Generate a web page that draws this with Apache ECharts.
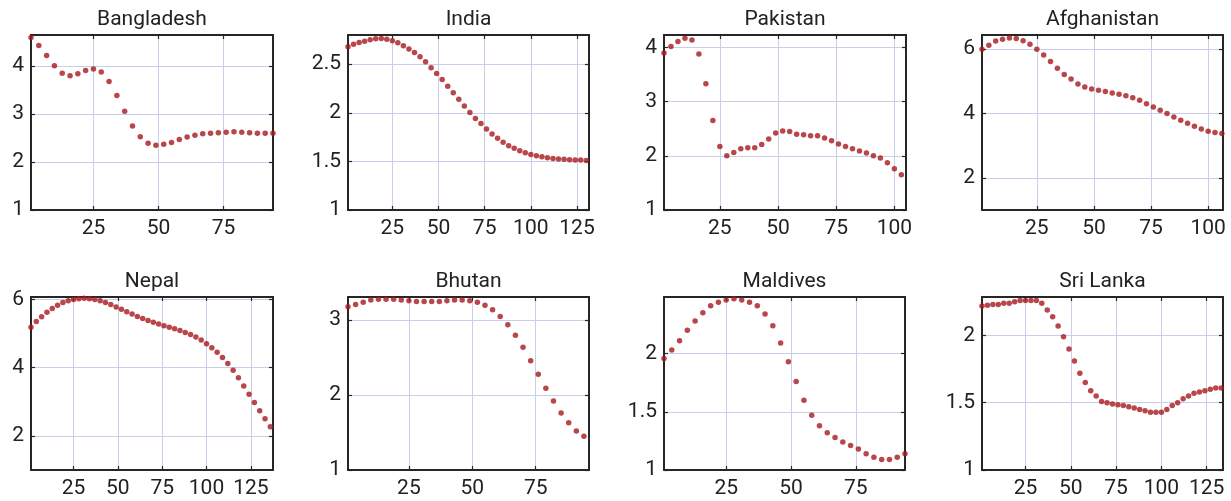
<!DOCTYPE html>
<html>
<head>
<meta charset="utf-8">
<script src="https://cdn.jsdelivr.net/npm/echarts@6/dist/echarts.min.js"></script>
<style>
html,body{margin:0;padding:0;background:#fff;}
#chart{width:1231px;height:501px;}
</style>
</head>
<body>
<div id="chart"></div>
<script>
// x positions (shared by all panels, each panel uses as many as it has values)
const xPositions = [1,4,7,10,13,16,19,22,25,28,31,34,37,40,43,46,49,52,55,58,61,64,67,70,73,76,79,82,85,88,91,94,97,100,103,106,109,112,115,118,121,124,127,130,133,136];

const countries = ['Bangladesh','India','Pakistan','Afghanistan','Nepal','Bhutan','Maldives','Sri Lanka'];

const bangladesh = [4.60,4.43,4.22,4.01,3.85,3.80,3.84,3.91,3.94,3.88,3.68,3.39,3.06,2.75,2.53,2.39,2.35,2.37,2.41,2.47,2.52,2.56,2.59,2.60,2.61,2.62,2.63,2.62,2.61,2.60,2.60,2.60];
const india = [2.678,2.706,2.723,2.737,2.75,2.761,2.765,2.757,2.74,2.72,2.689,2.655,2.62,2.576,2.524,2.463,2.405,2.343,2.274,2.206,2.138,2.069,2.004,1.942,1.891,1.832,1.781,1.737,1.696,1.661,1.634,1.61,1.589,1.572,1.558,1.548,1.538,1.531,1.524,1.521,1.517,1.514,1.514,1.51];
const pakistan = [3.90,4.02,4.11,4.17,4.14,3.88,3.33,2.65,2.17,2.00,2.06,2.13,2.15,2.15,2.21,2.31,2.42,2.46,2.45,2.40,2.39,2.37,2.37,2.33,2.28,2.22,2.17,2.13,2.09,2.05,2.00,1.96,1.87,1.76,1.65];
const afghanistan = [6.00,6.12,6.25,6.31,6.35,6.33,6.26,6.15,6.00,5.82,5.62,5.41,5.21,5.07,4.92,4.82,4.76,4.72,4.68,4.64,4.60,4.55,4.49,4.41,4.30,4.20,4.10,4.00,3.89,3.79,3.70,3.60,3.52,3.45,3.41,3.38];
const nepal = [5.18,5.35,5.49,5.62,5.73,5.83,5.91,5.96,6.00,6.02,6.03,6.02,6.00,5.96,5.91,5.85,5.78,5.71,5.64,5.57,5.50,5.44,5.38,5.33,5.28,5.23,5.18,5.14,5.09,5.03,4.97,4.90,4.81,4.70,4.58,4.45,4.30,4.12,3.92,3.70,3.46,3.22,2.98,2.74,2.50,2.27];
const bhutan = [3.18,3.21,3.24,3.27,3.28,3.28,3.28,3.27,3.26,3.25,3.25,3.25,3.25,3.26,3.27,3.27,3.26,3.24,3.20,3.14,3.05,2.94,2.80,2.64,2.46,2.28,2.09,1.92,1.76,1.63,1.52,1.45];
const maldives = [1.957,2.03,2.11,2.20,2.28,2.35,2.41,2.44,2.46,2.47,2.46,2.44,2.41,2.34,2.24,2.09,1.93,1.76,1.60,1.47,1.38,1.32,1.28,1.24,1.21,1.18,1.14,1.11,1.09,1.09,1.11,1.14];
const sriLanka = [2.22,2.224,2.23,2.23,2.24,2.24,2.25,2.26,2.26,2.26,2.26,2.24,2.19,2.14,2.07,1.99,1.90,1.81,1.72,1.65,1.59,1.55,1.51,1.50,1.49,1.485,1.48,1.47,1.46,1.45,1.44,1.43,1.43,1.43,1.45,1.48,1.50,1.53,1.55,1.57,1.58,1.59,1.60,1.61,1.61];

const seriesValues = [bangladesh, india, pakistan, afghanistan, nepal, bhutan, maldives, sriLanka];

// tick labels
const xTicksA = [25,50,75];
const xTicksB = [25,50,75,100];
const xTicksC = [25,50,75,100,125];
const yTicksInt = [1,2,3,4];
const yTicksHalf = [1,1.5,2,2.5];
const yTicksEven = [2,4,6];
const yTicksBhutan = [1,2,3];

const xTickSets = [xTicksA, xTicksC, xTicksB, xTicksB, xTicksC, xTicksA, xTicksA, xTicksC];
const yTickSets = [yTicksInt, yTicksHalf, yTicksInt, yTicksEven, yTicksEven, yTicksBhutan, yTicksHalf, yTicksHalf];

// axis ranges
const xMax = [94, 131.5, 105, 106.5, 137.5, 96, 94, 134];
const yMax = [4.65, 2.8, 4.23, 6.44, 6.07, 3.31, 2.486, 2.286];

// layout
const gridBoxes = [
  [31,35,242,175],[348,35,241,175],[664,35,242,175],[982,35,241,175],
  [31,297,242,173],[348,297,241,173],[664,297,241,173],[982,297,241,173]
];

const FONT = 'Roboto';
const INK = '#262626';
const GRIDC = '#c9cee9';
const DOT = '#a8181d';

const grid = [], xAxis = [], yAxis = [], series = [];
countries.forEach((name, i) => {
  const b = gridBoxes[i];
  grid.push({left:b[0], top:b[1], width:b[2], height:b[3], containLabel:false});
  const lineStyle = {color: INK, width: 2};
  const tickStyle = {color: INK, width: 1.2};
  xAxis.push({
    gridIndex:i, type:'value', min:1, max:xMax[i], position:'bottom',
    axisLine:{show:true, onZero:false, lineStyle},
    axisTick:{show:true, inside:true, length:4, customValues:xTickSets[i], lineStyle:tickStyle},
    axisLabel:{show:true, customValues:xTickSets[i], fontSize:21, color:'#222', fontFamily:FONT, margin:8},
    splitLine:{show:true, lineStyle:{color:GRIDC, width:1}}
  });
  xAxis.push({
    gridIndex:i, type:'value', min:1, max:xMax[i], position:'top',
    name:name, nameLocation:'middle', nameGap:5,
    nameTextStyle:{fontSize:21, color:'#222', fontFamily:FONT},
    axisLine:{show:true, onZero:false, lineStyle},
    axisTick:{show:true, inside:true, length:4, customValues:xTickSets[i], lineStyle:tickStyle},
    axisLabel:{show:false},
    splitLine:{show:false}
  });
  yAxis.push({
    gridIndex:i, type:'value', min:1, max:yMax[i], position:'left',
    axisLine:{show:true, onZero:false, lineStyle},
    axisTick:{show:true, inside:true, length:4, customValues:yTickSets[i], lineStyle:tickStyle},
    axisLabel:{show:true, customValues:yTickSets[i], fontSize:21, color:'#222', fontFamily:FONT, margin:7},
    splitLine:{show:true, lineStyle:{color:GRIDC, width:1}}
  });
  yAxis.push({
    gridIndex:i, type:'value', min:1, max:yMax[i], position:'right',
    axisLine:{show:true, onZero:false, lineStyle},
    axisTick:{show:true, inside:true, length:4, customValues:yTickSets[i], lineStyle:tickStyle},
    axisLabel:{show:false},
    splitLine:{show:false}
  });
  const vals = seriesValues[i];
  series.push({
    type:'scatter', name:name, xAxisIndex:2*i, yAxisIndex:2*i,
    symbol:'circle', symbolSize:5.5,
    itemStyle:{color:DOT},
    data: vals.map((v, k) => [xPositions[k], v]),
    z:5
  });
});

const chart = echarts.init(document.getElementById('chart'), null, {renderer:'canvas'});
chart.setOption({
  animation:false,
  backgroundColor:'#ffffff',
  textStyle:{fontFamily:FONT},
  grid, xAxis, yAxis, series
});
</script>
</body>
</html>
